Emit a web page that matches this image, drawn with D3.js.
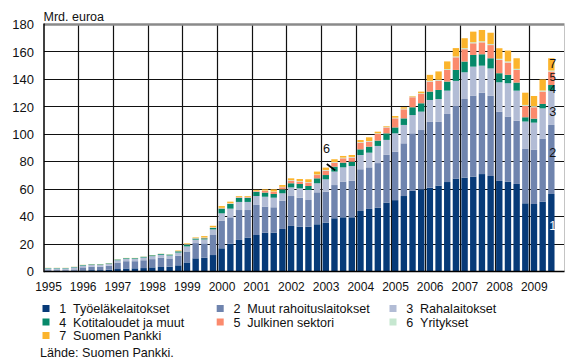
<!DOCTYPE html>
<html>
<head>
<meta charset="utf-8">
<script src="https://cdn.jsdelivr.net/npm/d3@7"></script>
<style>
html,body{margin:0;padding:0;background:#fff;}
svg{display:block;font-family:"Liberation Sans",Arial,sans-serif;}
</style>
</head>
<body>
<svg id="chart" width="565" height="361"></svg>
<script>
// ---- data ----
const years = [1995,1996,1997,1998,1999,2000,2001,2002,2003,2004,2005,2006,2007,2008,2009];
const yTicks = [0,20,40,60,80,100,120,140,160,180];
const seriesNames = ["Työeläkelaitokset","Muut rahoituslaitokset","Rahalaitokset","Kotitaloudet ja muut","Julkinen sektori","Yritykset","Suomen Pankki"];
const seriesColors = ["#073a78","#6f84ae","#b2bcd5","#06896a","#fb8a6d","#c6e7d0","#fbb42c"];

// quarterly values (1995Q1 ... 2009Q3), mrd. euroa
const s1 = [0.4,0.4,0.4,0.5, 0.8,1.0,1.0,1.3, 1.8,2.2,2.3,2.5, 3.0,3.3,3.5,4.5, 6.6,9.6,10.0,12.0,
            16.9,20.3,23.0,24.7, 26.6,28.3,28.3,31.0, 33.2,32.7,32.7,34.4, 35.6,38.8,39.5,39.5,
            44.1,45.6,46.5,50.2, 52.0,55.0,58.9,59.9, 61.1,62.6,65.2,67.7, 68.4,69.1,71.0,69.6,
            66.0,65.5,63.8,49.7, 49.2,50.9,56.5];
const s2 = [0.6,0.6,0.6,1.0, 2.2,2.5,2.5,2.9, 4.7,5.3,5.2,5.7, 6.0,6.7,6.0,7.0, 8.0,11.1,10.5,14.6,
            20.1,19.2,21.8,20.1, 21.9,19.0,18.5,20.6, 21.8,21.1,19.4,23.3, 22.6,24.2,26.0,26.7,
            30.4,30.3,32.5,34.8, 35.3,38.4,41.8,43.2, 47.9,46.4,49.6,52.9, 57.3,59.1,59.3,58.4,
            50.5,47.4,46.1,39.6, 39.4,45.7,50.3];
const s3 = [1.2,1.2,1.2,1.5, 1.3,1.3,1.3,1.3, 1.7,1.7,1.7,2.0, 2.2,2.2,2.2,2.3, 3.7,2.5,2.9,4.1,
            5.4,6.3,5.9,5.9, 6.5,7.2,7.0,5.4, 6.3,6.8,7.3,6.6, 9.0,9.8,10.4,10.7,
            10.4,10.7,12.5,10.9, 13.4,13.4,13.3,13.4, 16.0,16.7,17.0,18.3, 19.5,21.1,19.7,20.0,
            21.4,24.3,21.9,20.0, 19.9,22.3,25.0];
const s4 = [0.3,0.3,0.3,0.3, 0.4,0.4,0.4,0.4, 0.5,0.5,0.5,0.5, 0.6,0.6,0.6,0.9, 1.2,0.8,0.8,1.0,
            3.4,3.4,2.9,2.9, 3.0,3.0,2.7,2.9, 3.0,3.2,2.9,3.6, 3.1,3.6,3.4,3.1,
            4.1,4.4,3.9,4.8, 4.3,4.8,5.7,6.1, 6.1,6.6,6.6,8.0, 7.8,8.5,8.3,7.4,
            6.6,6.1,5.9,3.1, 2.9,3.2,4.1];
const s5 = [0,0,0,0, 0,0,0,0, 0,0,0,0, 0,0,0,0.1, 0.2,0.2,0.3,0.3,
            0.3,0.3,0.5,0.5, 0.5,1.2,1.5,1.5, 1.9,1.7,2.5,2.4, 3.2,2.9,3.2,3.0,
            4.9,3.6,4.8,4.3, 6.6,6.6,7.3,6.8, 7.3,6.8,8.5,9.2, 9.0,8.5,8.7,9.6,
            9.7,9.0,9.2,8.2, 8.3,9.0,9.8];
const s6 = [0.1,0.1,0.1,0.1, 0.1,0.1,0.1,0.1, 0.1,0.1,0.1,0.1, 0.1,0.1,0.1,0.1, 0.3,0.3,0.3,0.3,
            0.3,0.3,0.3,0.3, 0.3,0.3,0.3,0.3, 0.4,0.4,0.4,0.4, 0.5,0.5,0.5,0.5,
            0.5,0.5,0.5,0.5, 0.5,0.5,0.5,0.5, 0.6,0.6,0.6,0.6, 0.8,0.8,0.8,0.8,
            0.8,0.8,0.8,0.8, 0.8,0.8,0.8];
const s7 = [0.1,0.1,0.1,0.1, 0.1,0.1,0.1,0.1, 0.1,0.1,0.1,0.1, 0.1,0.1,0.1,0.4, 0.5,0.4,1.0,1.0,
            1.3,1.1,0.6,0.6, 0.7,0.9,1.6,1.3, 1.3,1.5,2.0,2.1, 1.7,2.0,1.2,1.4,
            1.4,2.7,1.2,0.5, 1.2,1.0,0.4,1.2, 4.3,6.1,5.6,6.1, 7.2,7.7,8.2,8.2,
            7.7,7.9,7.7,8.9, 7.4,8.1,8.9];
const allSeries = [s1,s2,s3,s4,s5,s6,s7];

(function () {
// ---- build table ----
const keys = ["k1","k2","k3","k4","k5","k6","k7"];
const rows = s1.map((_, i) => {
  const r = {t: years[0] + i/4};
  keys.forEach((k, j) => r[k] = allSeries[j][i]);
  return r;
});
const stacked = d3.stack().keys(keys)(rows);

// ---- layout ----
const svg = d3.select("#chart");
const pLeft = 44, pRight = 564.5, pTop = 24.5, pBottom = 271.5;
const x = d3.scaleLinear().domain([1995, 2010]).range([pLeft, pRight]);
const y = d3.scaleLinear().domain([0, 180]).range([pBottom, pTop]);
const qW = x(1995.25) - x(1995);
const barOff = 1.0, barW = qW - 2.3;

// horizontal grid
svg.append("g").selectAll("line").data(yTicks.filter(v => v > 0 && v < 180)).join("line")
  .attr("x1", pLeft).attr("x2", pRight)
  .attr("y1", d => Math.floor(y(d)) + 0.5).attr("y2", d => Math.floor(y(d)) + 0.5)
  .attr("stroke", "#111").attr("stroke-width", 1.2);
// vertical year grid
svg.append("g").selectAll("line").data(years.slice(1)).join("line")
  .attr("x1", d => Math.floor(x(d)) + 0.5).attr("x2", d => Math.floor(x(d)) + 0.5)
  .attr("y1", pTop).attr("y2", pBottom)
  .attr("stroke", "#111").attr("stroke-width", 1.2);

// bars
svg.append("g").selectAll("g").data(stacked).join("g")
  .attr("fill", (d, i) => seriesColors[i])
  .selectAll("rect").data(d => d).join("rect")
  .attr("x", d => x(d.data.t) + barOff)
  .attr("width", barW)
  .attr("y", d => y(d[1]))
  .attr("height", d => Math.max(0, y(d[0]) - y(d[1])));

// frame
svg.append("line").attr("x1", pLeft).attr("x2", pRight).attr("y1", y(180)).attr("y2", y(180))
  .attr("stroke", "#8a8a8a").attr("stroke-width", 2.4);
svg.append("line").attr("x1", pRight).attr("x2", pRight).attr("y1", pTop).attr("y2", pBottom)
  .attr("stroke", "#c4c4c4").attr("stroke-width", 1);
svg.append("line").attr("x1", pLeft).attr("x2", pLeft).attr("y1", pTop - 1).attr("y2", pBottom + 0.8)
  .attr("stroke", "#000").attr("stroke-width", 1.5);
svg.append("line").attr("x1", pLeft).attr("x2", pRight).attr("y1", pBottom).attr("y2", pBottom)
  .attr("stroke", "#000").attr("stroke-width", 1.5);

// y tick labels
svg.append("g").selectAll("text").data(yTicks).join("text")
  .attr("x", 34).attr("y", d => y(d)).attr("dy", "0.36em")
  .attr("text-anchor", "end").attr("font-size", 13).attr("fill", "#111")
  .text(d => d);
svg.append("text").attr("x", 43.5).attr("y", 20.5).attr("font-size", 12.5).attr("fill", "#111")
  .text("Mrd. euroa");

// x labels
svg.append("g").selectAll("text").data(years).join("text")
  .attr("x", d => x(d) + 4.5).attr("y", 291)
  .attr("text-anchor", "middle").attr("font-size", 12).attr("fill", "#111")
  .text(d => d);

// series labels on last bar
const last = rows.length - 1;
const lx = x(rows[last].t) + barOff + barW / 2 + 1.5;
const lab = [
  {s: 0, t: "1", dy: -7, c: "#fff", fs: 12.6},
  {s: 1, t: "2", dy: -7, c: "#111", fs: 12.6},
  {s: 2, t: "3", dy: 4, c: "#111", fs: 12.6},
  {s: 3, t: "4", dy: 1.2, c: "#111", fs: 11},
  {s: 4, t: "5", dy: -1.2, c: "#111", fs: 11.6},
  {s: 6, t: "7", dy: -0.5, c: "#111", fs: 12.6}
];
svg.append("g").selectAll("text").data(lab).join("text")
  .attr("x", lx)
  .attr("y", d => y((stacked[d.s][last][0] + stacked[d.s][last][1]) / 2) + d.dy)
  .attr("dy", "0.36em").attr("text-anchor", "middle").attr("font-size", d => d.fs)
  .attr("fill", d => d.c).text(d => d.t);

// label "6" with pointer
svg.append("text").attr("x", x(2003) + 4.8).attr("y", y(86)).attr("text-anchor", "middle")
  .attr("font-size", 12.6).attr("fill", "#111").text("6");
svg.append("line")
  .attr("x1", x(2003) + 5.2).attr("y1", y(78.4))
  .attr("x2", x(2003) + 13.6).attr("y2", y(73.7))
  .attr("stroke", "#000").attr("stroke-width", 1.8);

// legend
const colX = [42.5, 216.7, 389.5];
const rowY = [308.5, 322, 335.5];
const legend = seriesNames.map((n, i) => ({n, i, col: i % 3, row: Math.floor(i / 3)}));
const lg = svg.append("g").selectAll("g").data(legend).join("g")
  .attr("transform", d => `translate(${colX[d.col]},${rowY[d.row]})`);
lg.append("rect").attr("x", 0).attr("y", -3.5).attr("width", 7).attr("height", 7)
  .attr("fill", d => seriesColors[d.i]);
lg.append("text").attr("x", 16.8).attr("dy", "0.36em").attr("font-size", 12.6).attr("fill", "#111")
  .text(d => d.i + 1);
lg.append("text").attr("x", 30.5).attr("dy", "0.36em").attr("font-size", 12.6).attr("fill", "#111")
  .text(d => d.n);

svg.append("text").attr("x", 40).attr("y", 357).attr("font-size", 12.6).attr("fill", "#111")
  .text("Lähde: Suomen Pankki.");
})();
</script>
</body>
</html>
